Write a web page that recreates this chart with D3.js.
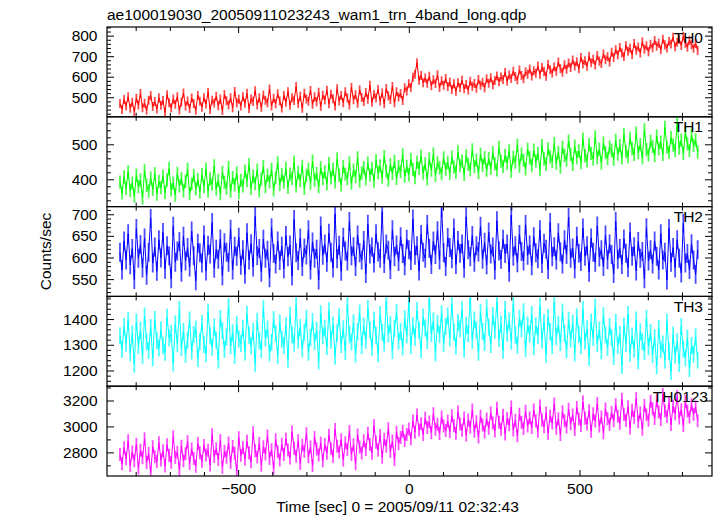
<!DOCTYPE html>
<html><head><meta charset="utf-8">
<script src="https://cdn.jsdelivr.net/npm/d3@7"></script>
<style>body{margin:0;background:#fff}svg{display:block}text{font-family:"Liberation Sans",Arial,Helvetica,sans-serif}</style>
</head><body><svg id="c" width="717" height="516"></svg>
<script>
const titleText = "ae100019030_20050911023243_wam1_trn_4band_long.qdp";
const xLabelText = "Time [sec] 0 = 2005/09/11 02:32:43";
const yLabelText = "Counts/sec";
const bandNames = ["TH0", "TH1", "TH2", "TH3", "TH0123"];
const tStart = -846, tStep = 6;
const xTicksMajor = [-500, 0, 500];
const xTicksMinor = [-800, -700, -600, -400, -300, -200, -100, 100, 200, 300, 400, 600, 700, 800];

const th0 = [
470,441,489,458,502,447,476,431,495,462,518,449,471,437,486,508,455,479,443,497,
461,484,426,512,473,449,491,466,503,438,477,521,458,482,445,496,470,437,509,481,
452,498,467,523,441,486,472,505,459,491,436,514,483,462,497,449,528,474,490,458,
503,471,519,446,492,480,532,463,497,451,511,486,474,540,458,495,469,517,482,448,
509,476,527,461,498,485,552,470,505,447,519,492,481,533,466,502,478,524,455,510,
487,534,469,515,493,458,541,482,509,474,527,496,463,548,488,512,471,536,499,479,
523,491,559,476,514,497,538,482,521,468,543,506,489,552,473,527,501,518,484,546,
531,566,548,597,612,668,583,606,571,594,568,602,556,585,567,609,548,580,559,591,
552,574,538,566,529,571,548,583,541,562,535,578,553,567,544,586,559,573,547,590,
568,595,561,582,604,576,599,587,621,579,608,592,627,601,585,633,606,590,624,612,
638,604,629,617,652,611,645,626,603,661,634,618,649,627,671,639,622,658,636,667,
645,681,652,673,639,694,662,678,651,699,668,685,657,703,676,664,711,683,697,672,
719,694,731,706,742,715,698,751,724,739,708,762,729,745,716,770,734,751,722,758,
741,776,749,763,731,782,755,740,771,759,792,746,768,781,752,797,763,744,778,756,
739,762,728];

const th1 = [
392,361,407,374,421,368,389,352,412,379,398,347,425,383,366,403,371,416,358,394,
376,409,362,398,431,370,389,355,417,381,402,367,394,428,359,386,411,373,399,364,
413,380,429,367,401,386,438,372,397,359,420,391,375,433,366,405,384,418,362,397,
381,423,396,442,374,409,388,426,367,401,436,379,412,393,428,370,404,447,385,413,
392,431,377,415,403,449,381,420,396,437,374,411,428,389,452,398,416,379,433,402,
421,387,445,404,429,393,458,411,384,436,415,402,447,389,426,408,461,395,418,433,
401,446,412,431,395,453,419,438,406,465,424,398,442,417,451,403,436,422,470,409,
437,413,456,428,405,449,431,466,418,444,401,458,426,472,411,447,433,416,461,429,
448,417,463,435,421,478,439,452,414,467,443,428,484,436,455,419,471,440,462,426,
459,431,476,444,427,491,452,437,468,446,481,423,463,449,497,438,472,455,430,486,
461,439,483,452,474,428,496,458,443,487,464,451,502,446,477,435,491,468,455,509,
471,443,494,462,481,448,515,467,453,499,474,458,521,462,486,447,503,476,460,492,
483,457,511,472,496,461,528,479,465,517,488,471,532,476,499,462,541,485,470,508,
494,468,523,487,506,471,548,492,477,519,498,483,561,489,512,474,534,501,482,526,
497,512,478];

const th2 = [
612,571,638,594,655,583,621,549,667,598,630,576,645,559,612,690,587,624,568,641,
599,658,573,627,604,551,672,589,615,637,566,649,592,623,578,661,604,546,633,611,
587,652,569,628,608,681,575,619,596,643,558,634,612,589,665,571,626,603,647,582,
618,561,657,594,632,578,695,604,621,566,642,598,617,553,669,609,585,638,593,626,
574,651,602,629,557,688,611,593,645,579,622,606,664,571,636,598,619,548,673,605,
631,589,656,612,576,701,597,628,568,647,615,592,683,604,625,579,652,611,594,639,
563,677,608,624,587,655,613,598,706,586,631,617,572,664,602,629,591,648,609,581,
642,618,593,689,605,627,569,653,612,598,676,621,584,638,607,662,594,715,611,579,
646,623,597,668,584,639,610,631,575,694,618,602,651,589,627,613,672,596,635,583,
659,608,624,571,685,615,596,642,609,631,566,698,603,627,588,653,614,592,676,605,
629,581,648,611,597,664,586,633,619,572,681,602,625,594,657,613,585,641,607,693,
598,622,574,649,610,591,668,603,627,566,645,612,589,673,601,618,579,652,595,631,
607,563,684,596,621,584,643,610,577,659,603,625,569,637,598,614,551,669,592,618,
585,638,603,571,655,594,612,548,667,589,623,576,641,598,564,679,587,609,572,632,
594,561,618];

const th3 = [
1335,1282,1371,1306,1394,1268,1342,1225,1389,1297,1356,1259,1412,1311,1278,1367,1249,1398,1316,1287,
1358,1296,1271,1408,1326,1344,1229,1381,1304,1437,1289,1352,1263,1319,1396,1276,1340,1361,1247,1312,
1383,1301,1265,1427,1334,1290,1369,1318,1241,1402,1355,1283,1330,1448,1296,1347,1259,1378,1322,1305,
1364,1272,1419,1337,1296,1353,1228,1391,1315,1282,1440,1326,1361,1268,1309,1398,1343,1257,1386,1321,
1297,1374,1245,1415,1338,1306,1453,1319,1367,1284,1349,1403,1271,1328,1390,1312,1356,1237,1421,1335,
1364,1293,1432,1318,1377,1256,1346,1409,1301,1362,1275,1457,1339,1311,1386,1264,1351,1424,1297,1372,
1318,1441,1357,1289,1396,1336,1265,1418,1349,1307,1469,1342,1380,1278,1364,1426,1315,1353,1291,1401,
1338,1462,1297,1374,1329,1433,1356,1281,1408,1365,1317,1477,1344,1392,1268,1383,1339,1421,1306,1371,
1412,1326,1458,1349,1294,1387,1362,1436,1283,1375,1343,1481,1318,1396,1357,1271,1425,1352,1309,1444,
1368,1301,1413,1356,1467,1324,1381,1279,1437,1345,1392,1314,1459,1337,1298,1403,1362,1428,1285,1377,
1341,1418,1292,1374,1336,1451,1319,1388,1263,1406,1352,1297,1465,1331,1379,1308,1427,1344,1281,1395,
1322,1384,1268,1409,1341,1296,1437,1315,1362,1251,1389,1328,1446,1304,1357,1276,1413,1338,1289,1371,
1327,1254,1388,1296,1341,1219,1372,1305,1419,1267,1334,1283,1396,1238,1351,1312,1275,1403,1292,1348,
1262,1327,1218,1364,1281,1303,1241,1389,1275,1196,1338,1259,1312,1227,1371,1284,1249,1326,1208,1297,
1263,1331,1241];

const th0123 = [
2784,2712,2836,2751,2889,2698,2803,2736,2862,2679,2817,2758,2905,2722,2791,2646,2843,2767,2729,2874,
2741,2812,2695,2858,2776,2723,2921,2760,2801,2668,2847,2735,2789,2882,2714,2826,2752,2693,2869,2797,
2731,2854,2779,2817,2702,2936,2768,2829,2745,2891,2686,2808,2763,2872,2721,2846,2794,2658,2913,2777,
2838,2749,2885,2796,2727,2951,2812,2764,2869,2701,2843,2788,2927,2753,2821,2679,2898,2806,2741,2862,
2784,2903,2819,2756,2957,2832,2771,2889,2715,2856,2808,2944,2767,2841,2698,2915,2826,2779,2872,2736,
2861,2794,2932,2829,2768,2976,2847,2803,2898,2741,2875,2822,2961,2785,2858,2713,2934,2842,2796,2889,
2823,2947,2861,2794,3006,2878,2819,2931,2762,2902,2848,2983,2808,2887,2745,2956,2869,2914,2963,2892,
2937,2981,2904,3042,2956,3089,2972,3021,2938,3064,2991,3035,2952,3098,2979,3017,2946,3072,3003,2968,
3041,2959,3083,3006,2947,3112,3018,2971,3065,2933,3049,2994,3127,2962,3036,2918,3079,3011,2957,3058,
2986,3103,3027,2965,3141,3033,2978,3086,2941,3062,3012,3149,2973,3047,2929,3094,3031,2984,3117,3004,
3066,2991,3127,3042,2963,3158,3049,2997,3104,2948,3081,3026,3172,2986,3059,2937,3113,3044,2995,3132,
3021,3089,2976,3146,3058,3007,3188,3063,3019,3121,2962,3097,3041,3176,3003,3072,2951,3134,3059,3016,
3108,3043,3167,3079,3024,3209,3092,3046,3151,2988,3124,3071,3216,3035,3103,2979,3162,3089,3048,3194,
3137,3061,3198,3112,3053,3247,3119,3076,3182,3014,3156,3098,3231,3065,3129,3007,3193,3118,3072,3168,
3094,3151,3043];

const seriesValues = [th0, th1, th2, th3, th0123];
const seriesErrors = [22, 19, 22, 33, 50];
const seriesColors = ["#ff0000", "#00ff00", "#0000ff", "#00ffff", "#ff00ff"];
const yDomains = [[405, 842], [322, 578.6], [510, 717.7], [1139, 1488], [2618, 3310]];
const yMajor = [[500, 600, 700, 800], [400, 500], [550, 600, 650, 700], [1200, 1300, 1400], [2800, 3000, 3200]];
const yMinorStep = [20, 20, 10, 20, 100];

(function () {
const plotLeft = 107, plotRight = 712, plotTop = 27, plotBottom = 476;
const ph = (plotBottom - plotTop) / 5;
const fs = 15.5;
const labelRight = [703, 703, 703, 703, 708];

const svg = d3.select("#c");
const x = d3.scaleLinear().domain([-884, 888]).range([plotLeft, plotRight]);

svg.append("text").attr("x", plotLeft).attr("y", 20).attr("font-size", fs).attr("fill", "#000").text(titleText);

function styleAxis(g) {
  g.select(".domain").remove();
  g.selectAll("line").attr("stroke", "#000").attr("stroke-width", 1);
  g.selectAll("text").attr("font-size", fs).attr("fill", "#000").attr("font-family", '"Liberation Sans",Arial,sans-serif');
  g.attr("font-size", null).attr("font-family", null);
}

seriesValues.forEach((vals, k) => {
  const py0 = plotTop + k * ph, py1 = py0 + ph;
  const y = d3.scaleLinear().domain(yDomains[k]).range([py1, py0]);
  const [d0, d1] = yDomains[k];
  const st = yMinorStep[k];
  const minor = d3.range(Math.ceil(d0 / st) * st, d1, st).filter(v => !yMajor[k].includes(v));
  const err = seriesErrors[k];
  const tx = (d, i) => x(tStart + i * tStep);

  const clipId = "clip" + k;
  svg.append("clipPath").attr("id", clipId).append("rect")
    .attr("x", plotLeft).attr("y", py0).attr("width", plotRight - plotLeft).attr("height", ph);

  const gData = svg.append("g").attr("clip-path", `url(#${clipId})`);
  gData.selectAll("line.err").data(vals).join("line").attr("class", "err")
    .attr("x1", tx).attr("x2", tx)
    .attr("y1", d => y(d - err)).attr("y2", d => y(d + err))
    .attr("stroke", seriesColors[k]).attr("stroke-opacity", 0.7).attr("stroke-width", 1.8);

  const line = d3.line().x(tx).y(d => y(d));
  gData.append("path").datum(vals)
    .attr("fill", "none").attr("stroke", seriesColors[k]).attr("stroke-width", 1)
    .attr("d", line);

  svg.append("g").attr("transform", `translate(${plotLeft},0)`)
    .call(d3.axisLeft(y).tickValues(yMajor[k]).tickSize(-7).tickPadding(9.5).tickFormat(d3.format("d")))
    .call(styleAxis);
  svg.append("g").attr("transform", `translate(${plotLeft},0)`)
    .call(d3.axisLeft(y).tickValues(minor).tickSize(-4).tickFormat(""))
    .call(styleAxis);
  svg.append("g").attr("transform", `translate(${plotRight},0)`)
    .call(d3.axisRight(y).tickValues(yMajor[k]).tickSize(-7).tickFormat(""))
    .call(styleAxis);
  svg.append("g").attr("transform", `translate(${plotRight},0)`)
    .call(d3.axisRight(y).tickValues(minor).tickSize(-4).tickFormat(""))
    .call(styleAxis);
  svg.append("g").attr("transform", `translate(0,${py0})`)
    .call(d3.axisTop(x).tickValues(xTicksMajor).tickSize(-6).tickFormat(""))
    .call(styleAxis);
  svg.append("g").attr("transform", `translate(0,${py0})`)
    .call(d3.axisTop(x).tickValues(xTicksMinor).tickSize(-4).tickFormat(""))
    .call(styleAxis);
  const isLast = k === seriesValues.length - 1;
  svg.append("g").attr("transform", `translate(0,${py1})`)
    .call(d3.axisBottom(x).tickValues(xTicksMajor).tickSize(-6).tickPadding(7)
      .tickFormat(isLast ? d3.format("d") : ""))
    .call(styleAxis);
  svg.append("g").attr("transform", `translate(0,${py1})`)
    .call(d3.axisBottom(x).tickValues(xTicksMinor).tickSize(-4).tickFormat(""))
    .call(styleAxis);

  svg.append("rect").attr("x", plotLeft).attr("y", py0).attr("width", plotRight - plotLeft).attr("height", ph)
    .attr("fill", "none").attr("stroke", "#000").attr("stroke-width", 1.2);

  svg.append("text").attr("x", labelRight[k]).attr("y", py0 + 15.5).attr("text-anchor", "end")
    .attr("font-size", fs).attr("fill", "#000").text(bandNames[k]);
});

svg.append("text").attr("x", 397.5).attr("y", 512).attr("text-anchor", "middle")
  .attr("font-size", fs).attr("fill", "#000").text(xLabelText);
svg.append("text").attr("transform", `translate(51,${(plotTop + plotBottom) / 2}) rotate(-90)`)
  .attr("text-anchor", "middle").attr("font-size", fs).attr("fill", "#000").text(yLabelText);
})();
</script></body></html>
